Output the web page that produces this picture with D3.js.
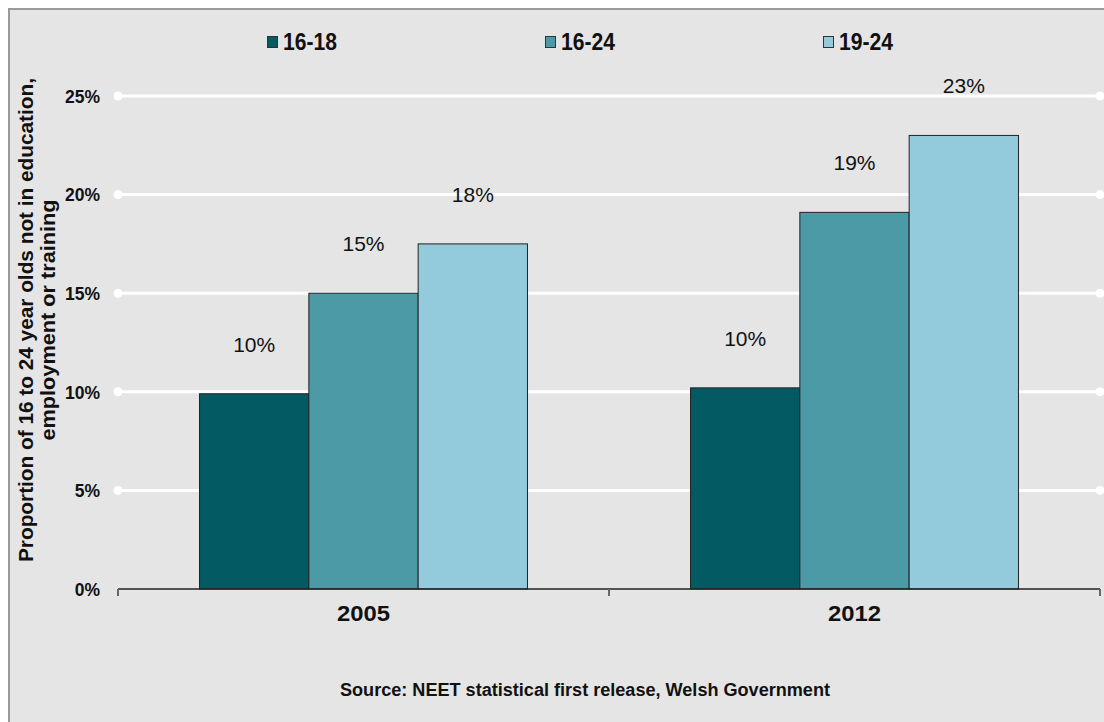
<!DOCTYPE html>
<html><head><meta charset="utf-8">
<script src="https://cdn.jsdelivr.net/npm/d3@7"></script>
<style>body{margin:0;background:#fff}svg{display:block}</style>
</head><body>
<svg id="c" width="1104" height="722"></svg>
<script>
const categories = ["2005", "2012"];
const seriesNames = ["16-18", "16-24", "19-24"];
const values16_18 = [9.9, 10.2];
const values16_24 = [15.0, 19.1];
const values19_24 = [17.5, 23.0];
const valueLabels16_18 = ["10%", "10%"];
const valueLabels16_24 = ["15%", "19%"];
const valueLabels19_24 = ["18%", "23%"];
const yTicks = [0, 5, 10, 15, 20, 25];
const colors = ["#035a63", "#4b9aa6", "#93cbdd"];

(function () {
const series = [
  {name: seriesNames[0], values: values16_18, labels: valueLabels16_18, color: colors[0]},
  {name: seriesNames[1], values: values16_24, labels: valueLabels16_24, color: colors[1]},
  {name: seriesNames[2], values: values19_24, labels: valueLabels19_24, color: colors[2]}
];

const svg = d3.select("#c");
const font = "'Liberation Sans', Arial, sans-serif";

svg.append("rect").attr("x", 9).attr("y", 9).attr("width", 1110).attr("height", 730)
  .attr("fill", "#e5e5e5").attr("stroke", "#9a9a9a").attr("stroke-width", 2);

const pLeft = 118, pRight = 1100, pTop = 96, pBottom = 589;
const y = d3.scaleLinear().domain([0, 25]).range([pBottom, pTop]);
const x0 = d3.scaleBand().domain(categories).range([pLeft, pRight]).paddingInner(0).paddingOuter(0);
const x1 = d3.scaleBand().domain(seriesNames).range([0, x0.bandwidth()]).paddingOuter(0.746).paddingInner(0);

// gridlines
const grid = svg.append("g");
yTicks.filter(t => t > 0).forEach(t => {
  grid.append("line").attr("x1", pLeft).attr("x2", pRight).attr("y1", y(t)).attr("y2", y(t))
    .attr("stroke", "#fff").attr("stroke-width", 3);
  grid.append("circle").attr("cx", pLeft).attr("cy", y(t)).attr("r", 4.5).attr("fill", "#fff");
  grid.append("circle").attr("cx", pRight).attr("cy", y(t)).attr("r", 4.5).attr("fill", "#fff");
});

// y axis tick labels
const yAxis = d3.axisLeft(y).tickValues(yTicks).tickFormat(d => d + "%").tickSize(0).tickPadding(0);
const ya = svg.append("g").attr("transform", `translate(100,0)`).call(yAxis);
ya.select(".domain").remove();
ya.selectAll("text").attr("font-family", font).attr("font-weight", "bold").attr("font-size", 17.5)
  .attr("fill", "#111").attr("dy", "0.36em");

// bars
const groups = svg.append("g").selectAll("g").data(categories).join("g")
  .attr("transform", d => `translate(${x0(d)},0)`);
series.forEach(s => {
  groups.append("rect")
    .attr("x", () => x1(s.name))
    .attr("y", (d, i) => y(s.values[i]))
    .attr("width", x1.bandwidth())
    .attr("height", (d, i) => y(0) - y(s.values[i]))
    .attr("fill", s.color).attr("stroke", "#222").attr("stroke-width", 1);
  groups.append("text")
    .attr("x", () => x1(s.name) + x1.bandwidth() / 2)
    .attr("y", (d, i) => y(s.values[i]) - 42)
    .attr("text-anchor", "middle")
    .attr("font-family", font).attr("font-size", 21).attr("fill", "#111")
    .text((d, i) => s.labels[i]);
});

// x axis
const xAxis = d3.axisBottom(x0).tickSize(0).tickPadding(0);
const xa = svg.append("g").attr("transform", `translate(0,${pBottom})`).call(xAxis);
xa.select(".domain").attr("stroke", "#222").attr("stroke-width", 1.5).attr("d", `M${pLeft},0H${pRight}`);
xa.selectAll("text").attr("font-family", font).attr("font-weight", "bold").attr("font-size", 22)
  .attr("fill", "#111").attr("dy", null).attr("y", 32)
  .attr("textLength", 53).attr("lengthAdjust", "spacingAndGlyphs");
[pLeft, pLeft + x0.bandwidth(), pRight].forEach(t => {
  svg.append("line").attr("x1", t).attr("x2", t).attr("y1", pBottom).attr("y2", pBottom + 7)
    .attr("stroke", "#666").attr("stroke-width", 2);
});

// y axis title
const t1 = svg.append("g").attr("transform", "translate(33,320) rotate(-90)");
t1.append("text").attr("text-anchor", "middle").attr("font-family", font).attr("font-weight", "bold")
  .attr("font-size", 21).attr("fill", "#111").attr("x", 0).attr("y", 0)
  .attr("textLength", 484).attr("lengthAdjust", "spacingAndGlyphs")
  .text("Proportion of 16 to 24 year olds not in education,");
t1.append("text").attr("text-anchor", "middle").attr("font-family", font).attr("font-weight", "bold")
  .attr("font-size", 21).attr("fill", "#111").attr("x", 0).attr("y", 22)
  .attr("textLength", 241).attr("lengthAdjust", "spacingAndGlyphs")
  .text("employment or training");

// legend
const legendX = [267, 545, 823];
series.forEach((s, i) => {
  svg.append("rect").attr("x", legendX[i] + 0.5).attr("y", 36.5).attr("width", 10).attr("height", 11)
    .attr("fill", s.color).attr("stroke", "#333").attr("stroke-width", 1);
  svg.append("text").attr("x", legendX[i] + 16).attr("y", 50)
    .attr("font-family", font).attr("font-weight", "bold").attr("font-size", 23).attr("fill", "#111")
    .attr("textLength", 54).attr("lengthAdjust", "spacingAndGlyphs")
    .text(s.name);
});

// source
svg.append("text").attr("x", 585).attr("y", 696).attr("text-anchor", "middle")
  .attr("font-family", font).attr("font-weight", "bold").attr("font-size", 18).attr("fill", "#111")
  .attr("textLength", 490).attr("lengthAdjust", "spacingAndGlyphs")
  .text("Source: NEET statistical first release, Welsh Government");
})();
</script>
</body></html>
